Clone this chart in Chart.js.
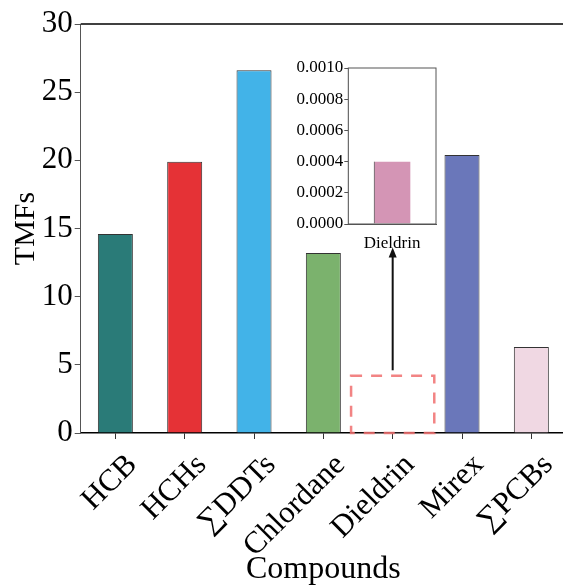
<!DOCTYPE html>
<html>
<head>
<meta charset="utf-8">
<script src="https://cdn.jsdelivr.net/npm/chart.js@4/dist/chart.umd.min.js"></script>
<style>
  html, body { margin: 0; padding: 0; background: #fff; overflow: hidden; }
  #wrap { position: relative; width: 563px; height: 586px; overflow: hidden; }
  #main { position: absolute; left: 0; top: 0; }
  #inset { position: absolute; left: 280px; top: 50px; }
</style>
</head>
<body>
<div id="wrap">
  <canvas id="main" width="566" height="586"></canvas>
  <canvas id="inset" width="170" height="215"></canvas>
</div>
<script>
// ---- data ----
const categories = ['HCB', 'HCHs', '\u2211DDTs', 'Chlordane', 'Dieldrin', 'Mirex', '\u2211PCBs'];
const tmfValues = [14.6, 19.9, 26.6, 13.2, 0.0004, 20.4, 6.3];
const barColors = ['#2A7B78', '#E53236', '#42B3E8', '#7BB26D', '#D495B5', '#6A77BA', '#F0D8E3'];
const yTickValues = [0, 5, 10, 15, 20, 25, 30];

const insetCategories = ['Dieldrin'];
const insetValues = [0.0004];
const insetTickValues = [0, 0.0002, 0.0004, 0.0006, 0.0008, 0.0010];

// callout annotation (in main y units)
const calloutIndex = 4;
const calloutBoxTop = 4.2;
const arrowFrom = 4.6;
const arrowTo = 13.6;

const FONT = 'Liberation Serif';

const topLinePlugin = {
  id: 'topLine',
  afterDraw(chart) {
    const { ctx, chartArea } = chart;
    ctx.save();
    ctx.strokeStyle = '#000';
    ctx.lineWidth = 1.5;
    ctx.beginPath();
    ctx.moveTo(chartArea.left, chartArea.top);
    ctx.lineTo(chartArea.right, chartArea.top);
    ctx.stroke();
    ctx.restore();
  }
};

const calloutPlugin = {
  id: 'callout',
  afterDatasetsDraw(chart) {
    const { ctx } = chart;
    const xs = chart.scales.x, ys = chart.scales.y;
    const cx = xs.getPixelForValue(calloutIndex);
    const catW = xs.width / categories.length;
    const half = catW * 0.6;
    const yTop = ys.getPixelForValue(calloutBoxTop);
    const yBot = ys.getPixelForValue(0);
    ctx.save();
    ctx.strokeStyle = 'rgba(240,110,110,0.85)';
    ctx.lineWidth = 2.5;
    ctx.setLineDash([11, 9]);
    ctx.strokeRect(cx - half, yTop, half * 2, yBot - yTop);
    ctx.setLineDash([]);
    // arrow
    const a0 = ys.getPixelForValue(arrowFrom);
    const a1 = ys.getPixelForValue(arrowTo);
    ctx.strokeStyle = '#111';
    ctx.fillStyle = '#111';
    ctx.lineWidth = 2;
    ctx.beginPath();
    ctx.moveTo(cx, a0);
    ctx.lineTo(cx, a1 + 8);
    ctx.stroke();
    ctx.beginPath();
    ctx.moveTo(cx, a1);
    ctx.lineTo(cx - 4, a1 + 10);
    ctx.lineTo(cx + 4, a1 + 10);
    ctx.closePath();
    ctx.fill();
    ctx.restore();
  }
};

new Chart(document.getElementById('main').getContext('2d'), {
  type: 'bar',
  data: {
    labels: categories,
    datasets: [{
      data: tmfValues,
      backgroundColor: barColors,
      borderColor: '#333',
      borderWidth: 1,
      barPercentage: 0.505,
      categoryPercentage: 1
    }]
  },
  options: {
    responsive: false,
    animation: false,
    devicePixelRatio: 1,
    layout: { padding: { top: 24, left: 0, right: 0, bottom: 0 } },
    plugins: { legend: { display: false }, tooltip: { enabled: false } },
    scales: {
      x: {
        grid: { drawOnChartArea: false, drawTicks: true, tickLength: 6, color: '#333', lineWidth: 1, offset: false },
        border: { display: true, color: '#000', width: 1.5 },
        ticks: { autoSkip: false, minRotation: 45, maxRotation: 45, color: '#000', padding: 8, labelOffset: 17,
                 font: { family: FONT, size: 31 } },
        title: { display: true, text: 'Compounds', color: '#000',
                 font: { family: FONT, size: 32 }, padding: { top: 0, bottom: -3 } },
        afterFit(s) { s.height = 153; s.paddingLeft = 0; s.paddingRight = 0; }
      },
      y: {
        min: 0, max: 30,
        afterBuildTicks(s) { s.ticks = yTickValues.map(v => ({ value: v })); },
        grid: { drawOnChartArea: false, drawTicks: true, tickLength: 6, color: '#555' },
        border: { display: true, color: '#555', width: 1 },
        ticks: { color: '#000', padding: 2, font: { family: FONT, size: 31 } },
        title: { display: true, text: 'TMFs', color: '#000',
                 font: { family: FONT, size: 30 }, padding: { top: 8, bottom: 0 } },
        afterFit(s) { s.width = 80.7; }
      }
    }
  },
  plugins: [topLinePlugin, calloutPlugin]
});

const framePlugin = {
  id: 'frame',
  beforeDatasetsDraw(chart) {
    const { ctx, chartArea } = chart;
    ctx.save();
    ctx.fillStyle = '#fff';
    ctx.fillRect(chartArea.left, chartArea.top, chartArea.width, chartArea.height);
    ctx.restore();
  },
  afterDraw(chart) {
    const { ctx, chartArea } = chart;
    ctx.save();
    ctx.strokeStyle = '#555';
    ctx.lineWidth = 1;
    ctx.strokeRect(chartArea.left, chartArea.top, chartArea.width, chartArea.height);
    ctx.restore();
  }
};

new Chart(document.getElementById('inset').getContext('2d'), {
  type: 'bar',
  data: {
    labels: insetCategories,
    datasets: [{
      data: insetValues,
      backgroundColor: '#D495B5',
      borderColor: '#333',
      borderWidth: { left: 1, right: 0, top: 0, bottom: 0 },
      borderSkipped: false,
      barPercentage: 0.42,
      categoryPercentage: 1
    }]
  },
  options: {
    responsive: false,
    animation: false,
    devicePixelRatio: 1,
    layout: { padding: { top: 18, left: 0, right: 14, bottom: 0 } },
    plugins: { legend: { display: false }, tooltip: { enabled: false } },
    scales: {
      x: {
        grid: { display: false },
        border: { display: true, color: '#555', width: 1 },
        ticks: { color: '#000', padding: 1, maxRotation: 0, font: { family: FONT, size: 17 } },
        afterFit(s) { s.height = 41; s.paddingLeft = 0; s.paddingRight = 0; }
      },
      y: {
        min: 0, max: 0.001,
        afterBuildTicks(s) { s.ticks = insetTickValues.map(v => ({ value: v })); },
        grid: { drawOnChartArea: false, drawTicks: true, tickLength: 4, color: '#555' },
        border: { display: true, color: '#555', width: 1 },
        ticks: { color: '#000', padding: 1, font: { family: FONT, size: 17 },
                 callback: v => Number(v).toFixed(4) },
        afterFit(s) { s.width = 68.3; }
      }
    }
  },
  plugins: [framePlugin]
});
</script>
</body>
</html>
